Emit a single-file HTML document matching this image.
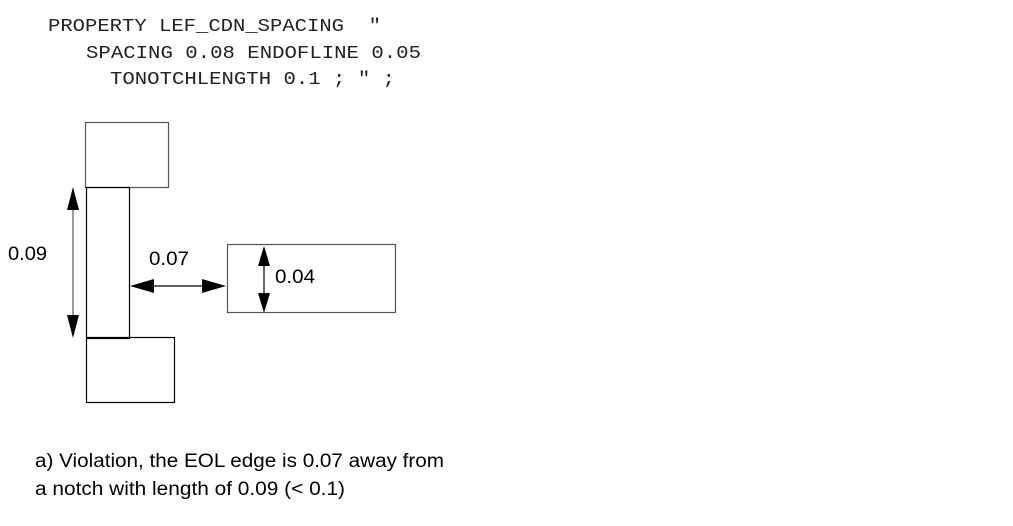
<!DOCTYPE html>
<html><head><style>
body{margin:0;background:#fff;width:1013px;height:521px;overflow:hidden}
</style></head><body>
<svg width="1013" height="521" xmlns="http://www.w3.org/2000/svg">
<g font-family="Liberation Mono, monospace" font-size="18" fill="#222">
<text x="48" y="31" textLength="333" lengthAdjust="spacingAndGlyphs" xml:space="preserve">PROPERTY LEF_CDN_SPACING  "</text>
<text x="86" y="58" textLength="335" lengthAdjust="spacingAndGlyphs">SPACING 0.08 ENDOFLINE 0.05</text>
<text x="110" y="84" textLength="285" lengthAdjust="spacingAndGlyphs">TONOTCHLENGTH 0.1 ; " ;</text>
</g>
<g fill="none" stroke="#000" stroke-width="1.2">
<rect x="85.5" y="122.5" width="83" height="65" stroke="#555"/>
<rect x="86.5" y="187.5" width="43" height="151"/>
<rect x="86.5" y="337.5" width="88" height="65"/>
<rect x="227.5" y="244.5" width="168" height="68" stroke="#555"/>
<line x1="73" y1="205" x2="73" y2="320" stroke="#555"/>
<line x1="145" y1="286" x2="210" y2="286"/>
<line x1="264" y1="262" x2="264" y2="296"/>
</g>
<g fill="#000">
<polygon points="73,187 67,210 79,210"/>
<polygon points="73,338 67,315 79,315"/>
<polygon points="130,286 154,279 154,293"/>
<polygon points="226,286 202,279 202,293"/>
<polygon points="264,246 258,266 270,266"/>
<polygon points="264,313 258,293 270,293"/>
</g>
<g font-family="Liberation Sans, sans-serif" font-size="19" fill="#000">
<text x="8" y="260" textLength="39" lengthAdjust="spacingAndGlyphs">0.09</text>
<text x="149" y="265" textLength="40" lengthAdjust="spacingAndGlyphs">0.07</text>
<text x="275" y="283" textLength="40" lengthAdjust="spacingAndGlyphs">0.04</text>
<text x="35" y="467" textLength="409" lengthAdjust="spacingAndGlyphs">a) Violation, the EOL edge is 0.07 away from</text>
<text x="35" y="495" textLength="310" lengthAdjust="spacingAndGlyphs">a notch with length of 0.09 (&lt; 0.1)</text>
</g>
</svg>
</body></html>
